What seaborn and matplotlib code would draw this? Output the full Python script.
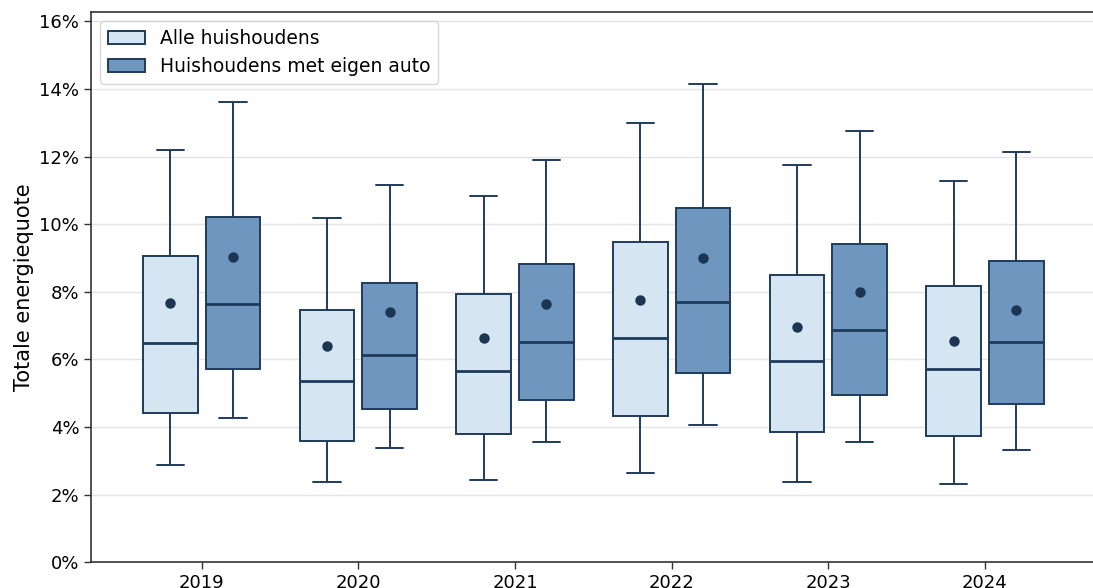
import pandas as pd
import matplotlib.pyplot as plt
import seaborn as sns
from matplotlib.ticker import PercentFormatter

# Jaren en groepen
years = ['2019', '2020', '2021', '2022', '2023', '2024']
groups = ['Alle huishoudens', 'Huishoudens met eigen auto']

# Boxplot-statistieken (in %) - alle huishoudens
alle_low = [2.88, 2.38, 2.43, 2.64, 2.37, 2.31]
alle_q1 = [4.41, 3.60, 3.80, 4.32, 3.85, 3.74]
alle_med = [6.50, 5.36, 5.66, 6.63, 5.95, 5.71]
alle_q3 = [9.05, 7.47, 7.94, 9.47, 8.50, 8.17]
alle_high = [12.21, 10.18, 10.85, 12.99, 11.75, 11.29]
alle_mean = [7.68, 6.40, 6.64, 7.76, 6.97, 6.56]

# Boxplot-statistieken (in %) - huishoudens met eigen auto
auto_low = [4.27, 3.37, 3.56, 4.06, 3.57, 3.33]
auto_q1 = [5.71, 4.54, 4.80, 5.61, 4.96, 4.67]
auto_med = [7.65, 6.13, 6.51, 7.69, 6.87, 6.51]
auto_q3 = [10.22, 8.27, 8.82, 10.49, 9.42, 8.92]
auto_high = [13.63, 11.17, 11.90, 14.15, 12.76, 12.13]
auto_mean = [9.04, 7.41, 7.65, 9.01, 7.99, 7.46]

light = '#d6e5f2'
dark = '#6e96bf'
edge = '#1f3b5c'
dot = '#1b3552'

# long format: per box de vijf kengetallen (whis=(0, 100) -> min/max = whiskers)
rows = []
means = []
for grp, stats, mn in [
    (groups[0], [alle_low, alle_q1, alle_med, alle_q3, alle_high], alle_mean),
    (groups[1], [auto_low, auto_q1, auto_med, auto_q3, auto_high], auto_mean),
]:
    for i, yr in enumerate(years):
        for s in stats:
            rows.append({'jaar': yr, 'groep': grp, 'quote': s[i]})
        means.append({'jaar': yr, 'groep': grp, 'quote': mn[i]})
df = pd.DataFrame(rows)
df_mean = pd.DataFrame(means)

sns.set_style('white')
plt.rcParams['font.family'] = ['DejaVu Sans']
plt.rcParams['text.color'] = 'black'
plt.rcParams['axes.labelcolor'] = 'black'
plt.rcParams['xtick.color'] = 'black'
plt.rcParams['ytick.color'] = 'black'

fig = plt.figure(figsize=(10.93, 5.88), dpi=100)
ax = fig.add_axes([91 / 1093, 25.7 / 588, 1002 / 1093, 550.3 / 588])

sns.boxplot(data=df, x='jaar', y='quote', hue='groep', order=years, hue_order=groups,
            palette=[light, dark], saturation=1, whis=(0, 100), width=0.8, gap=0.125,
            linecolor=edge, linewidth=1.4, showfliers=False,
            medianprops={'linewidth': 2.0}, ax=ax)
sns.stripplot(data=df_mean, x='jaar', y='quote', hue='groep', order=years, hue_order=groups,
              palette=[dot, dot], dodge=True, jitter=False, size=7.5, legend=False,
              zorder=5, ax=ax)

ax.set_ylim(0, 16.28)
ax.set_xlim(-0.707, 5.69)
ax.set_yticks(range(0, 17, 2))
ax.yaxis.set_major_formatter(PercentFormatter(decimals=0))
ax.grid(True, axis='y', color='#e4e4e4', linewidth=1.0)
ax.set_axisbelow(True)

ax.set_xlabel('')
ax.set_ylabel('Totale energiequote', fontsize=15)
ax.tick_params(axis='both', labelsize=13, length=5, width=1, direction='out',
               bottom=True, left=True, color='#333333', labelcolor='black')

for side in ['left', 'bottom', 'top']:
    ax.spines[side].set_color('#333333')
    ax.spines[side].set_linewidth(1.2)
ax.spines['right'].set_visible(False)

leg = ax.legend(loc='upper left', fontsize=13.5, frameon=True, framealpha=0.8,
                edgecolor='#cccccc', fancybox=True)
for t in leg.get_texts():
    t.set_color('black')

fig.savefig('out.png', dpi=100)
